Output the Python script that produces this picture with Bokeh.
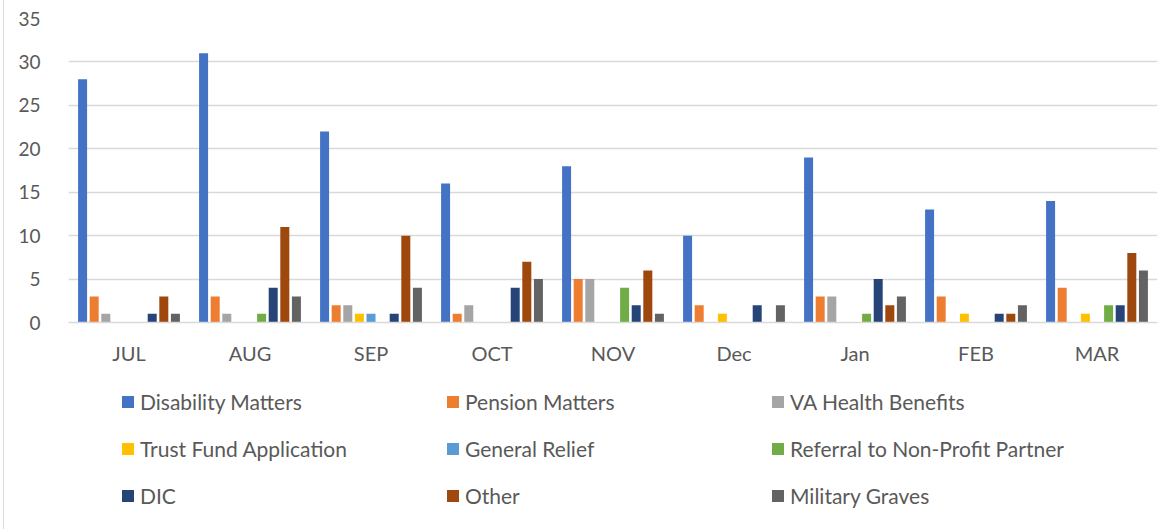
from bokeh.plotting import figure
from bokeh.layouts import column
from bokeh.models import FactorRange, Range1d, Legend, LegendItem, FixedTicker, ColumnDataSource
from bokeh.transform import dodge
from bokeh.embed import file_html
from bokeh.resources import INLINE

months = ["JUL", "AUG", "SEP", "OCT", "NOV", "Dec", "Jan", "FEB", "MAR"]
series_names = ["Disability Matters", "Pension Matters", "VA Health Benefits",
                "Trust Fund Application", "General Relief", "Referral to Non-Profit Partner",
                "DIC", "Other", "Military Graves"]
disability = [28, 31, 22, 16, 18, 10, 19, 13, 14]
pension = [3, 3, 2, 1, 5, 2, 3, 3, 4]
va_health = [1, 1, 2, 2, 5, 0, 3, 0, 0]
trust_fund = [0, 0, 1, 0, 0, 1, 0, 1, 1]
general_relief = [0, 0, 1, 0, 0, 0, 0, 0, 0]
referral = [0, 1, 0, 0, 4, 0, 1, 0, 2]
dic = [1, 4, 1, 4, 2, 2, 5, 1, 2]
other = [3, 11, 10, 7, 6, 0, 2, 1, 8]
graves = [1, 3, 4, 5, 1, 2, 3, 2, 6]
y_ticks = [0, 5, 10, 15, 20, 25, 30, 35]

colors = ["#4472C4", "#ED7D31", "#A5A5A5", "#FFC000", "#5B9BD5",
          "#70AD47", "#264478", "#9E480E", "#636363"]
values = [disability, pension, va_health, trust_fund, general_relief,
          referral, dic, other, graves]

FONT = "Lato"
TXT = "#595959"
GRID = "#D9D9D9"

p = figure(x_range=FactorRange(*months), y_range=Range1d(0, 35),
           frame_width=1089, frame_height=304, output_backend="svg", toolbar_location=None,
           min_border_left=64, min_border_right=12, min_border_top=18, min_border_bottom=60)

src = ColumnDataSource(dict(month=months, **{f"s{i}": v for i, v in enumerate(values)}))

slot = 0.0959
bw = 0.0744
for i, col in enumerate(colors):
    p.vbar(x=dodge("month", (i - 4) * slot, range=p.x_range), top=f"s{i}", width=bw,
           source=src, fill_color=col, line_color=None)

p.outline_line_color = None
p.xgrid.grid_line_color = None
p.ygrid.grid_line_color = GRID
p.ygrid.grid_line_width = 1.3
p.yaxis.ticker = FixedTicker(ticks=y_ticks)
p.yaxis.axis_line_color = None
p.yaxis.major_tick_line_color = None
p.yaxis.minor_tick_line_color = None
p.yaxis.major_label_standoff = 22
p.xaxis.axis_line_color = GRID
p.xaxis.axis_line_width = 1.3
p.xaxis.major_tick_line_color = None
p.xaxis.minor_tick_line_color = None
p.xaxis.major_label_standoff = 12
for ax in (p.xaxis, p.yaxis):
    ax.major_label_text_font = FONT
    ax.major_label_text_color = TXT
p.yaxis.major_label_text_font_size = "19px"
p.xaxis.major_label_text_font_size = "20px"

# legend panel below the chart
lg = figure(width=1157, height=147, x_range=Range1d(0, 1), y_range=Range1d(0, 1),
            output_backend="svg", toolbar_location=None,
            x_axis_location=None, y_axis_location=None,
            min_border_left=0, min_border_right=0, min_border_top=0, min_border_bottom=0)
lg.outline_line_color = None
lg.grid.visible = False
# off-range proxy glyphs that only supply the legend swatches
proxies = [lg.vbar(x=[-10], top=[-10], width=0.1, fill_color=c, line_color=None) for c in colors]

legend = Legend(items=[LegendItem(label=n, renderers=[r]) for n, r in zip(series_names, proxies)],
                ncols=3, orientation="horizontal", location=(52, 21),
                glyph_width=15, glyph_height=15, label_standoff=5,
                label_width=283, label_height=20, spacing=22,
                padding=0, margin=0, border_line_color=None, background_fill_alpha=0,
                label_text_font=FONT, label_text_font_size="21px", label_text_color=TXT)
lg.add_layout(legend, "center")

layout = column(p, lg, spacing=0,
                styles={"margin-left": "3px", "border-left": "1px solid #D9D9D9"})

open("out.html", "w").write(file_html(layout, INLINE))
